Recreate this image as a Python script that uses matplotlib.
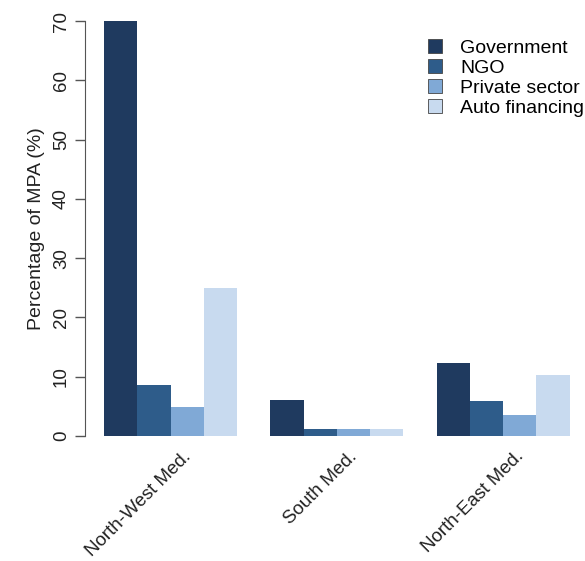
import matplotlib
matplotlib.use("Agg")
import matplotlib.pyplot as plt
import numpy as np

plt.rcParams["font.family"] = ["Liberation Sans", "DejaVu Sans"]

regions = ["North-West Med.", "South Med.", "North-East Med."]
sources = ["Government", "NGO", "Private sector", "Auto financing"]
government = [70.0, 6.1, 12.3]
ngo = [8.6, 1.2, 5.9]
private_sector = [4.9, 1.2, 3.5]
auto_financing = [25.0, 1.2, 10.3]
y_ticks = [0, 10, 20, 30, 40, 50, 60, 70]

colors = ["#1f3a5f", "#2e5c8a", "#80a9d6", "#c8daef"]
series = [government, ngo, private_sector, auto_financing]

W, H = 585, 561
fig = plt.figure(figsize=(W / 100, H / 100), dpi=100)

# plot region in pixels, mimicking R barplot(beside=TRUE)
left_px, right_px = 85.4, 585.0
top_px, bot_px = 4.4, 452.6
ax = fig.add_axes([left_px / W, 1 - bot_px / H,
                   (right_px - left_px) / W, (bot_px - top_px) / H])

# bar layout: groups of 4 unit-wide bars, one unit gap between groups
n_src = len(sources)
group_starts = np.array([1 + g * (n_src + 1) for g in range(len(regions))])
for i, (vals, col) in enumerate(zip(series, colors)):
    ax.bar(group_starts + i, vals, width=1.0, align="edge", color=col,
           edgecolor="none", label=sources[i])

ax.set_xlim(0.44, 0.44 + (right_px - left_px) / 33.25)
ax.set_ylim(-2.8, 72.8)

for s in ["top", "right", "bottom"]:
    ax.spines[s].set_visible(False)
ax.spines["left"].set_bounds(0, 70)
ax.spines["left"].set_color("#555555")
ax.set_yticks(y_ticks)
ax.set_yticklabels([str(t) for t in y_ticks], rotation=90, va="center")
ax.tick_params(axis="y", length=7, width=1, color="#555555", labelsize=13.5,
               labelcolor="#222222", pad=4)
ax.set_xticks([])
ax.set_ylabel("Percentage of MPA (%)", fontsize=14, color="#222222", labelpad=6)

centers = group_starts + n_src / 2
for c, name in zip(centers, regions):
    ax.text(c + 0.35, -2.0, name, rotation=45, ha="right", va="top",
            rotation_mode="anchor", fontsize=13.5, color="#222222")

leg = ax.legend(loc="upper left", bbox_to_anchor=(0.67, 0.94), frameon=False,
                fontsize=14, handlelength=0.75, handleheight=0.75,
                handletextpad=0.9, labelspacing=0.1, borderaxespad=0)
for h in leg.legend_handles:
    h.set_edgecolor("#444444")
    h.set_linewidth(0.6)

fig.savefig("out.png", dpi=100)
